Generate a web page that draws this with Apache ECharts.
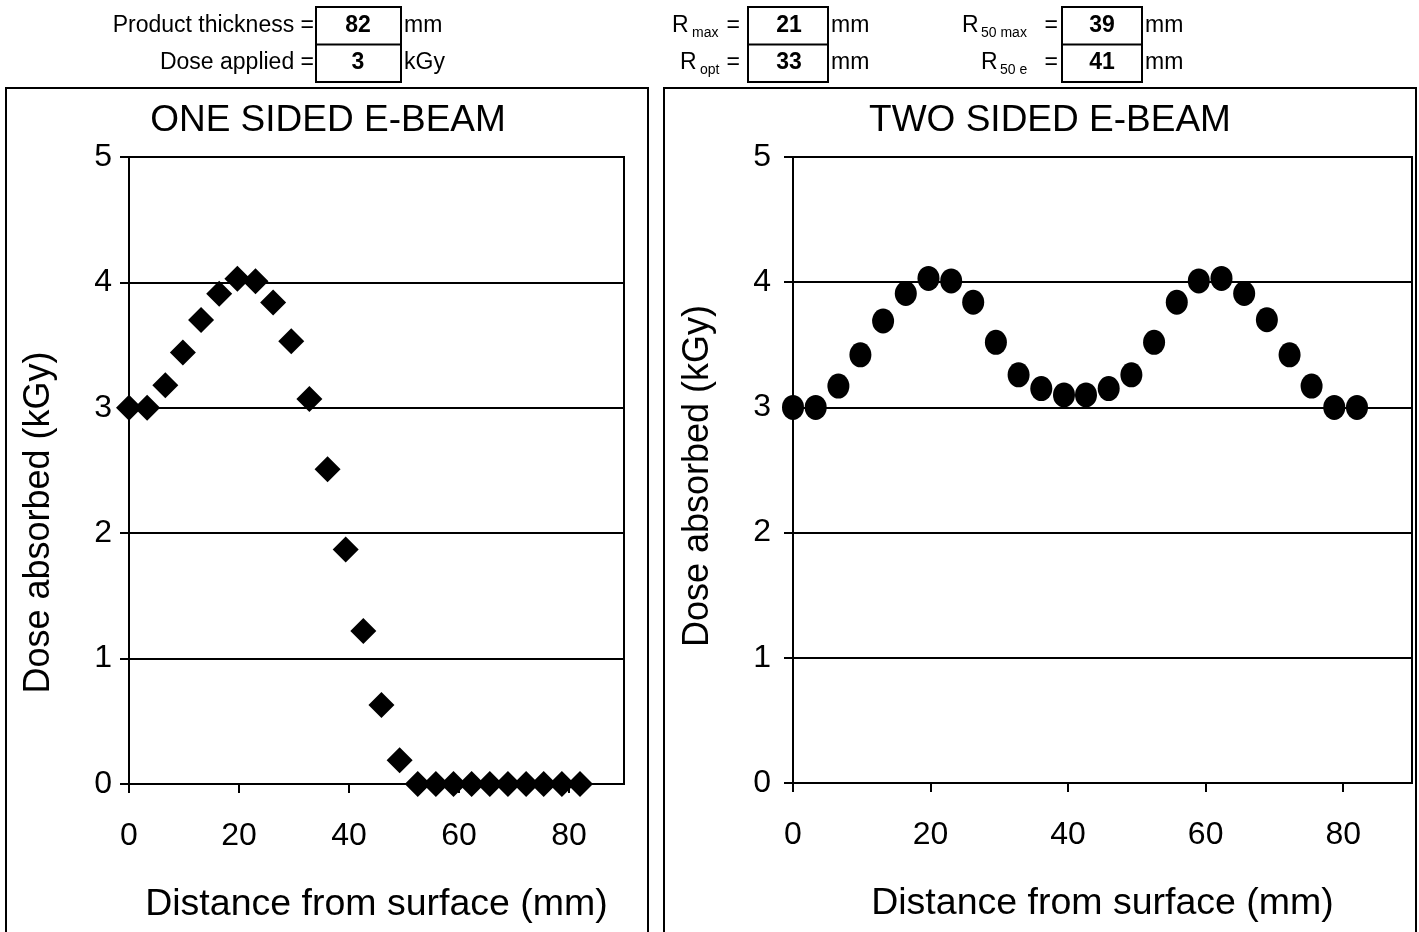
<!DOCTYPE html>
<html>
<head>
<meta charset="utf-8">
<title>E-beam dose profiles</title>
<script src="https://cdn.jsdelivr.net/npm/echarts@6/dist/echarts.min.js"></script>
<style>
  html, body { margin: 0; padding: 0; background: #fff; }
  #chart { width: 1419px; height: 932px; }
</style>
</head>
<body>
<div id="chart"></div>
<script>
// Depth of each dose reading (mm from the irradiated surface)
const distances = [0, 3.3, 6.6, 9.8, 13.1, 16.4, 19.7, 23.0, 26.2, 29.5, 32.8, 36.1, 39.4,
                   42.6, 45.9, 49.2, 52.5, 55.8, 59.0, 62.3, 65.6, 68.9, 72.2, 75.4, 78.7, 82.0];
// Absorbed dose (kGy), single beam from one side
const oneSidedDose = [3.00, 3.00, 3.18, 3.44, 3.70, 3.91, 4.03, 4.01, 3.84, 3.53, 3.07, 2.51, 1.87,
                      1.22, 0.63, 0.19, 0, 0, 0, 0, 0, 0, 0, 0, 0, 0];
// Absorbed dose (kGy), beams from both sides
const twoSidedDose = [3.00, 3.00, 3.17, 3.42, 3.69, 3.91, 4.03, 4.01, 3.84, 3.52, 3.26, 3.15, 3.10,
                      3.10, 3.15, 3.26, 3.52, 3.84, 4.01, 4.03, 3.91, 3.70, 3.42, 3.17, 3.00, 3.00];
const xTicks = [0, 20, 40, 60, 80];
const yTicks = [0, 1, 2, 3, 4, 5];
const panelTitles = ['ONE SIDED E-BEAM', 'TWO SIDED E-BEAM'];
const xAxisTitle = 'Distance from surface (mm)';
const yAxisTitle = 'Dose absorbed (kGy)';
// Parameter table in the header
const productThickness = 82;   // mm
const doseApplied = 3;         // kGy
const rMax = 21, rOpt = 33, r50Max = 39, r50e = 41; // mm

const FONT = '"Liberation Sans", Arial, Helvetica, sans-serif';
const BLACK = '#000';
const HEAD = '23px ' + FONT;
const HEAD_BOLD = 'bold 23px ' + FONT;
const SUB = '14px ' + FONT;

const chart = echarts.init(document.getElementById('chart'), null, { renderer: 'canvas' });

function txt(x, y, text, opts) {
  return {
    type: 'text', x: x, y: y, silent: true,
    style: Object.assign({
      text: String(text), fill: BLACK, font: HEAD,
      align: 'left', verticalAlign: 'middle'
    }, opts || {})
  };
}
function box(x, y, w, h) {
  return [
    { type: 'rect', silent: true, shape: { x: x, y: y, width: w, height: h },
      style: { fill: 'none', stroke: BLACK, lineWidth: 2 } },
    { type: 'line', silent: true, shape: { x1: x, y1: y + h / 2, x2: x + w, y2: y + h / 2 },
      style: { stroke: BLACK, lineWidth: 2 } }
  ];
}
// "R" with a subscript, followed by "="
function rLabel(rx, subx, eqRight, y, sub) {
  return [
    txt(rx, y, 'R'),
    txt(subx, y + 7, sub, { font: SUB }),
    txt(eqRight, y, '=', { align: 'right' })
  ];
}

const row1 = 26, row2 = 63;
const graphics = [].concat(
  // product / dose parameters
  [txt(314, row1, 'Product thickness =', { align: 'right' }),
   txt(314, row2, 'Dose applied =', { align: 'right' })],
  box(316, 7, 85, 75),
  [txt(358, row1, productThickness, { align: 'center', font: HEAD_BOLD }),
   txt(358, row2, doseApplied, { align: 'center', font: HEAD_BOLD }),
   txt(404, row1, 'mm'), txt(404, row2, 'kGy')],
  // practical ranges
  rLabel(672, 692, 740, row1, 'max'),
  rLabel(680, 700, 740, row2, 'opt'),
  box(748, 7, 80, 75),
  [txt(789, row1, rMax, { align: 'center', font: HEAD_BOLD }),
   txt(789, row2, rOpt, { align: 'center', font: HEAD_BOLD }),
   txt(831, row1, 'mm'), txt(831, row2, 'mm')],
  rLabel(962, 981, 1058, row1, '50 max'),
  rLabel(981, 1000, 1058, row2, '50 e'),
  box(1062, 7, 80, 75),
  [txt(1102, row1, r50Max, { align: 'center', font: HEAD_BOLD }),
   txt(1102, row2, r50e, { align: 'center', font: HEAD_BOLD }),
   txt(1145, row1, 'mm'), txt(1145, row2, 'mm')],
  // panel frames
  [{ type: 'rect', silent: true, shape: { x: 6, y: 88, width: 642, height: 900 },
     style: { fill: 'none', stroke: BLACK, lineWidth: 2 } },
   { type: 'rect', silent: true, shape: { x: 664, y: 88, width: 752, height: 900 },
     style: { fill: 'none', stroke: BLACK, lineWidth: 2 } }],
  // panel titles
  [txt(328, 121, panelTitles[0], { align: 'center', font: '37px ' + FONT }),
   txt(1050, 121, panelTitles[1], { align: 'center', font: '37px ' + FONT })]
);

function makeXAxis(gridIndex) {
  return {
    type: 'value', gridIndex: gridIndex, min: 0, max: 90, interval: 20,
    axisLine: { show: true, lineStyle: { color: BLACK, width: 2 } },
    axisTick: { show: true, inside: false, length: 9, customValues: xTicks,
                lineStyle: { color: BLACK, width: 2 } },
    axisLabel: { customValues: xTicks, color: BLACK, fontSize: 32, fontFamily: FONT, margin: 36 },
    splitLine: { show: false },
    name: xAxisTitle, nameLocation: 'middle', nameGap: 102,
    nameTextStyle: { color: BLACK, fontSize: 37.5, fontFamily: FONT }
  };
}
function makeYAxis(gridIndex, labelMargin, nameGap, namePad) {
  return {
    type: 'value', gridIndex: gridIndex, min: 0, max: 5, interval: 1,
    axisLine: { show: true, lineStyle: { color: BLACK, width: 2 } },
    axisTick: { show: true, inside: false, length: 9, customValues: yTicks,
                lineStyle: { color: BLACK, width: 2 } },
    axisLabel: { customValues: yTicks, color: BLACK, fontSize: 32, fontFamily: FONT,
                 margin: labelMargin },
    splitLine: { show: true, lineStyle: { color: BLACK, width: 2 } },
    name: yAxisTitle, nameLocation: 'middle', nameGap: nameGap,
    nameTextStyle: { color: BLACK, fontSize: 36, fontFamily: FONT, padding: namePad }
  };
}

const option = {
  backgroundColor: '#fff',
  animation: false,
  grid: [
    { left: 129, top: 157, width: 495, height: 627, show: true, borderColor: BLACK, borderWidth: 2,
      backgroundColor: 'transparent' },
    { left: 793, top: 157, width: 619, height: 626, show: true, borderColor: BLACK, borderWidth: 2,
      backgroundColor: 'transparent' }
  ],
  xAxis: [makeXAxis(0), makeXAxis(1)],
  yAxis: [makeYAxis(0, 17, 72, [0, 104, 0, 0]), makeYAxis(1, 22, 77, [0, 12, 0, 0])],
  series: [
    {
      name: panelTitles[0], type: 'scatter', xAxisIndex: 0, yAxisIndex: 0,
      symbol: 'diamond', symbolSize: 26, clip: false, silent: true,
      itemStyle: { color: BLACK, opacity: 1 },
      data: distances.map((d, i) => [d, oneSidedDose[i]])
    },
    {
      name: panelTitles[1], type: 'scatter', xAxisIndex: 1, yAxisIndex: 1,
      symbol: 'circle', symbolSize: [22, 25], clip: false, silent: true,
      itemStyle: { color: BLACK, opacity: 1 },
      data: distances.map((d, i) => [d, twoSidedDose[i]])
    }
  ],
  graphic: graphics
};
chart.setOption(option);
</script>
</body>
</html>
